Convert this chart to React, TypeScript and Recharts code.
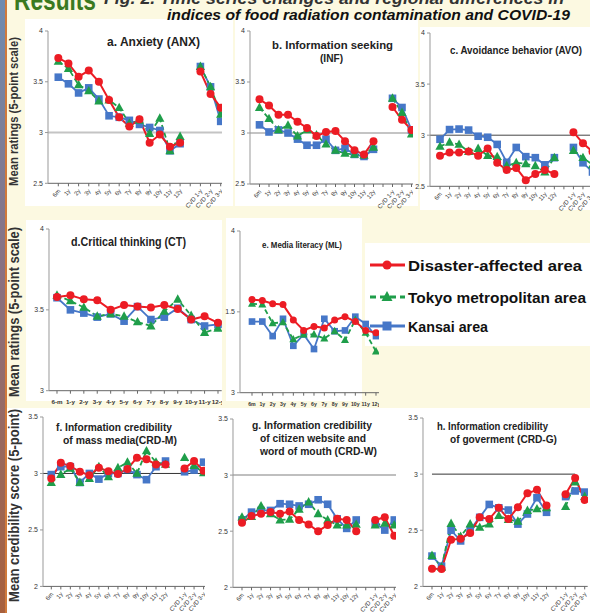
import React from "react";
import { LineChart, Line, XAxis, YAxis, ReferenceLine } from "recharts";

const RED = "#ec1c24";
const GREEN = "#1f9e4a";
const BLUE = "#4677c8";
const CREAM = "#fcf9e1";
const FONT = "'Liberation Sans', Arial, sans-serif";

// categories
const catsTop = ["6m", "1y", "2y", "3y", "4y", "5y", "6y", "7y", "8y", "9y", "10y", "11y", "12y", "", "CVD 1-y", "CVD 2-y", "CVD 3-y"];
const catsF = ["6m", "1y", "2y", "3y", "4y", "5y", "6y", "7y", "8y", "9y", "10y", "11y", "12y", "", "CVD 1-y", "CVD 2-y", "CVD 3-y"];
const catsG = ["6m", "1y", "2y", "3y", "4y", "5y", "6y", "7y", "8y", "9y", "11y", "10y", "12y", "", "CVD 1-y", "CVD 2-y", "CVD 3-y"];
const catsD = ["6-m", "1-y", "2-y", "3-y", "4-y", "5-y", "6-y", "7-y", "8-y", "9-y", "10-y", "11-y", "12-y"];
const catsE = ["6m", "1y", "2y", "3y", "4y", "5y", "6y", "7y", "8y", "9y", "10y", "11y", "12y"];

// y ticks
const ticksRow1 = [2.5, 3, 3.5, 4];
const labelsRow1 = ["2.5", "3", "3.5", "4"];
const ticksRow2 = [3, 3.5, 4];
const labelsD = ["3", "3.5", "4"];
const labelsE = ["3", "1.5", "4"];
const ticksRow3 = [2, 2.5, 3, 3.5];
const labelsRow3 = ["2", "2.5", "3", "3.5"];

// a. Anxiety
const aRed = [3.735, 3.68, 3.55, 3.61, 3.5, 3.32, 3.15, 3.06, 3.13, 2.9, 2.98, 2.86, 2.9, null, 3.6, 3.38, 3.245];
const aGreen = [3.7, 3.63, 3.47, 3.41, 3.31, 3.32, 3.245, 3.09, 3.12, 2.99, 3.14, 2.82, 2.96, null, 3.65, 3.45, 3.18];
const aBlue = [3.545, 3.48, 3.39, 3.44, 3.33, 3.165, 3.15, 3.12, 3.08, 3.05, 3.02, 2.82, 2.89, null, 3.65, 3.45, 3.11];

// b. Information seeking
const bRed = [3.33, 3.27, 3.18, 3.18, 3.11, 3.05, 2.97, 3.01, 3.02, 2.92, 2.83, 2.79, 2.92, null, 3.255, 3.13, 3.03];
const bGreen = [3.25, 3.14, 3.03, 3.075, 2.97, 3.03, 2.98, 2.89, 2.83, 2.8, 2.79, 2.78, 2.86, null, 3.34, 3.2, 2.99];
const bBlue = [3.08, 3.01, 3.03, 3.0, 2.94, 2.88, 2.88, 2.94, 2.83, 2.85, 2.79, 2.77, 2.84, null, 3.34, 3.25, 3.03];

// c. Avoidance behavior
const cRed = [2.8, 2.83, 2.83, 2.84, 2.8, 2.87, 2.73, 2.66, 2.68, 2.56, 2.62, 2.66, 2.62, null, 3.03, 2.92, 2.84];
const cGreen = [2.89, 2.93, 2.91, 2.84, 2.87, 2.8, 2.79, 2.7, 2.73, 2.72, 2.7, 2.64, 2.78, null, 2.85, 2.78, 2.71];
const cBlue = [2.96, 3.055, 3.06, 3.05, 2.99, 2.98, 2.91, 2.735, 2.88, 2.79, 2.78, 2.71, 2.78, null, 2.88, 2.73, 2.64];

// d. Critical thinking
const dRed = [3.58, 3.59, 3.565, 3.56, 3.5, 3.53, 3.52, 3.515, 3.53, 3.505, 3.44, 3.46, 3.42];
const dGreen = [3.59, 3.555, 3.515, 3.46, 3.475, 3.46, 3.425, 3.4, 3.49, 3.565, 3.465, 3.36, 3.385];
const dBlue = [3.575, 3.5, 3.48, 3.455, 3.475, 3.43, 3.52, 3.44, 3.455, 3.51, 3.44, 3.4, 3.41];

// e. Media literacy
const eRed = [3.576, 3.57, 3.55, 3.545, 3.45, 3.385, 3.41, 3.4, 3.45, 3.47, 3.44, 3.385, 3.37];
const eGreen = [3.55, 3.545, 3.43, 3.435, 3.33, 3.36, 3.36, 3.335, 3.38, 3.325, 3.45, 3.37, 3.255];
const eBlue = [3.44, 3.44, 3.35, 3.457, 3.29, 3.36, 3.27, 3.457, 3.38, 3.385, 3.47, 3.425, 3.35];

// f. CRD-M
const fRed = [2.955, 3.094, 3.065, 3.015, 2.985, 3.05, 3.02, 2.995, 3.04, 3.14, 3.125, 3.08, 3.08, null, 3.045, 3.11, 3.025];
const fGreen = [2.92, 2.99, 3.045, 2.92, 2.955, 3.06, 2.97, 3.05, 3.1, 3.0, 3.2, 3.1, 3.08, null, 3.14, 3.07, 3.005];
const fBlue = [2.99, 3.06, 3.06, 2.92, 3.0, 2.95, 3.0, 3.0, 3.035, 2.99, 2.945, 3.06, 3.11, null, 3.015, 3.03, 3.1];

// g. CRD-W
const gRed = [2.575, 2.635, 2.655, 2.67, 2.655, 2.675, 2.6, 2.56, 2.5, 2.555, 2.61, 2.6, 2.5, null, 2.6, 2.625, 2.46];
const gGreen = [2.625, 2.63, 2.725, 2.655, 2.6, 2.605, 2.695, 2.76, 2.655, 2.6, 2.555, 2.555, 2.56, null, 2.555, 2.57, 2.555];
const gBlue = [2.6, 2.67, 2.685, 2.685, 2.745, 2.74, 2.725, 2.74, 2.78, 2.74, 2.61, 2.525, 2.6, null, 2.57, 2.51, 2.6];

// h. CRD-G
const hRed = [2.157, 2.155, 2.415, 2.425, 2.475, 2.615, 2.6, 2.7, 2.6, 2.705, 2.83, 2.86, 2.72, null, 2.82, 2.965, 2.77];
const hGreen = [2.275, 2.17, 2.56, 2.445, 2.555, 2.525, 2.555, 2.63, 2.595, 2.58, 2.675, 2.69, 2.7, null, 2.71, 2.93, 2.8];
const hBlue = [2.27, 2.18, 2.5, 2.405, 2.505, 2.615, 2.73, 2.7, 2.68, 2.555, 2.645, 2.79, 2.66, null, 2.8, 2.85, 2.84];

const build = (cats: string[], red: (number | null)[], green: (number | null)[], blue: (number | null)[]) =>
  cats.map((c, i) => ({ cat: c, red: red[i], green: green[i], blue: blue[i] }));

const circleDot = (s: number) => (p: any) =>
  p.cy == null || p.value == null ? <g key={p.index} /> : <circle key={p.index} cx={p.cx} cy={p.cy} r={s} fill={RED} />;

const triDot = (s: number) => (p: any) =>
  p.cy == null || p.value == null ? (
    <g key={p.index} />
  ) : (
    <polygon
      key={p.index}
      points={`${p.cx},${p.cy - s * 1.25} ${p.cx - s * 1.15},${p.cy + s * 0.85} ${p.cx + s * 1.15},${p.cy + s * 0.85}`}
      fill={GREEN}
    />
  );

const squareDot = (s: number) => (p: any) =>
  p.cy == null || p.value == null ? (
    <g key={p.index} />
  ) : (
    <rect key={p.index} x={p.cx - s * 0.95} y={p.cy - s * 0.95} width={s * 1.9} height={s * 1.9} fill={BLUE} />
  );

const RotTick = (p: any) => (
  <g transform={`translate(${p.x},${p.y + 1})`}>
    <text textAnchor="end" fontSize={6} fill="#333" fontFamily={FONT} transform="rotate(-50)" dy={3}>
      {p.payload.value}
    </text>
  </g>
);

const FlatTick = (p: any) => (
  <text x={p.x} y={p.y + 8} textAnchor="middle" fontSize={p.fs ?? 6.2} fontWeight="bold" fill="#333" fontFamily={FONT}>
    {p.payload.value}
  </text>
);

interface PanelProps {
  axisX: number;
  endX: number;
  firstX: number;
  lastX: number;
  topPx: number;
  botPx: number;
  domain: [number, number];
  ticks: number[];
  labels: string[];
  data: any[];
  flat?: number;
  size?: number;
  refLine?: { stroke: string; width: number; to?: string };
}

function Panel({ axisX, endX, firstX, lastX, topPx, botPx, domain, ticks, labels, data, flat, size = 4, refLine }: PanelProps) {
  const yw = 30;
  const mt = 8;
  const mb = 40;
  const left = axisX - yw;
  const top = topPx - mt;
  const W = endX - left;
  const H = botPx - topPx + mt + mb;
  return (
    <div style={{ position: "absolute", left, top, width: W, height: H }}>
      <LineChart width={W} height={H} data={data} margin={{ top: mt, right: 0, bottom: 0, left: 0 }}>
        <XAxis
          dataKey="cat"
          interval={0}
          height={mb}
          padding={{ left: firstX - axisX, right: endX - lastX }}
          tick={flat ? <FlatTick fs={flat} /> : <RotTick />}
          tickSize={3}
          axisLine={{ stroke: "#666" }}
          tickLine={{ stroke: "#666" }}
        />
        <YAxis
          type="number"
          domain={domain}
          ticks={ticks}
          width={yw}
          tickSize={3}
          allowDataOverflow
          axisLine={{ stroke: "#999" }}
          tickLine={{ stroke: "#999" }}
          tick={{ fontSize: 7, fill: "#333", fontFamily: FONT }}
          tickFormatter={(v: number) => labels[ticks.indexOf(v)] ?? String(v)}
        />
        {refLine && !refLine.to && (
          <ReferenceLine y={3} stroke={refLine.stroke} strokeWidth={refLine.width} />
        )}
        {refLine && refLine.to && (
          <ReferenceLine
            segment={[
              { x: data[0].cat, y: 3 },
              { x: refLine.to, y: 3 },
            ]}
            stroke={refLine.stroke}
            strokeWidth={refLine.width}
          />
        )}
        <Line dataKey="blue" stroke={BLUE} strokeWidth={1.8} dot={squareDot(size)} activeDot={false} isAnimationActive={false} />
        <Line
          dataKey="green"
          stroke={GREEN}
          strokeWidth={1.8}
          strokeDasharray="5 3"
          dot={triDot(size)}
          activeDot={false}
          isAnimationActive={false}
        />
        <Line dataKey="red" stroke={RED} strokeWidth={2} dot={circleDot(size)} activeDot={false} isAnimationActive={false} />
      </LineChart>
    </div>
  );
}

const T = ({ x, y, len, size, children, weight = "bold", italic, fill = "#222" }: any) => (
  <text
    x={x}
    y={y}
    fontSize={size}
    fontWeight={weight}
    fontStyle={italic ? "italic" : "normal"}
    fill={fill}
    fontFamily={FONT}
    textLength={len}
    lengthAdjust="spacingAndGlyphs"
  >
    {children}
  </text>
);

export default function App() {
  return (
    <div style={{ position: "fixed", left: 0, top: 0, width: 590, height: 613, overflow: "hidden", background: CREAM }}>
      <svg width={590} height={613} style={{ position: "absolute", left: 0, top: 0 }}>
        <defs>
          <linearGradient id="strip" x1="0" y1="0" x2="0" y2="1">
            <stop offset="0" stopColor="#6f8bb0" />
            <stop offset="0.45" stopColor="#8a7080" />
            <stop offset="1" stopColor="#a8603c" />
          </linearGradient>
        </defs>
        <rect x={0} y={0} width={6} height={613} fill="url(#strip)" />
        <rect x={5} y={0} width={2} height={613} fill="#d07a3c" />
        <rect x={25} y={19} width={208} height={187} fill="#fff" />
        <rect x={235} y={19} width={183} height={187} fill="#fff" />
        <rect x={420} y={27} width={170} height={183} fill="#fff" />
        <rect x={26} y={220} width={196} height={181} fill="#fff" />
        <rect x={226} y={218} width={136} height={183} fill="#fff" />
        <rect x={365} y={243} width={225} height={103} fill="#fff" />
        <rect x={7} y={408} width={583} height={205} fill="#fff" />

        <T x={14} y={10} size={30} len={82} fill="#3b7a1f">Results</T>
        <T x={104} y={4} size={16} len={460} italic fill="#333">Fig. 2. Time series changes and regional differences in</T>
        <T x={167} y={20} size={15.5} len={403} italic fill="#111">indices of food radiation contamination and COVID-19</T>

        <g transform="translate(18,112) rotate(-90)">
          <text x={-74} y={0} fontSize={13} fontWeight="bold" fill="#333" fontFamily={FONT} textLength={149} lengthAdjust="spacingAndGlyphs">
            Mean ratings (5-point scale)
          </text>
        </g>
        <g transform="translate(19,312) rotate(-90)">
          <text x={-85} y={0} fontSize={14} fontWeight="bold" fill="#333" fontFamily={FONT} textLength={170} lengthAdjust="spacingAndGlyphs">
            Mean ratings (5-point scale)
          </text>
        </g>
        <g transform="translate(19,506) rotate(-90)">
          <text x={-96} y={0} fontSize={14} fontWeight="bold" fill="#333" fontFamily={FONT} textLength={193} lengthAdjust="spacingAndGlyphs">
            Mean credibility score (5-point)
          </text>
        </g>

        <T x={107} y={46} size={12} len={93}>a. Anxiety (ANX)</T>
        <T x={272} y={49} size={11.5} len={121}>b. Information seeking</T>
        <T x={320} y={62} size={11.5} len={23}>(INF)</T>
        <T x={450} y={54} size={10} len={132}>c. Avoidance behavior (AVO)</T>
        <T x={71} y={246} size={12.5} len={115}>d.Critical thinking (CT)</T>
        <T x={262} y={248} size={9} len={80}>e. Media literacy (ML)</T>
        <T x={56} y={431} size={11.5} len={116}>f. Information credibility</T>
        <T x={63} y={444} size={11.5} len={114}>of mass media(CRD-M)</T>
        <T x={252} y={429} size={11} len={120}>g. Information credibility</T>
        <T x={260} y={442} size={11} len={106}>of citizen website and</T>
        <T x={260} y={455} size={11} len={117}>word of mouth (CRD-W)</T>
        <T x={437} y={430} size={11} len={111}>h. Information credibility</T>
        <T x={450} y={443} size={11} len={107}>of goverment (CRD-G)</T>

        <line x1={370} y1={265} x2={405} y2={265} stroke={RED} strokeWidth={3} />
        <circle cx={387} cy={265} r={4.5} fill={RED} />
        <T x={408} y={271} size={15} len={174} fill="#111">Disaster-affected area</T>
        <line x1={370} y1={297} x2={405} y2={297} stroke={GREEN} strokeWidth={3} strokeDasharray="6 4" />
        <polygon points="387,291 381.5,301 392.5,301" fill={GREEN} />
        <T x={408} y={303} size={15} len={178} fill="#111">Tokyo metropolitan area</T>
        <line x1={370} y1={326} x2={405} y2={326} stroke={BLUE} strokeWidth={3} />
        <rect x={382.5} y={321.5} width={9} height={9} fill={BLUE} />
        <T x={408} y={332} size={15} len={80} fill="#111">Kansai area</T>
      </svg>

      <Panel axisX={48} endX={222} firstX={58.3} lastX={220.7} topPx={30.7} botPx={183} domain={[2.5, 4]} ticks={ticksRow1} labels={labelsRow1}
        data={build(catsTop, aRed, aGreen, aBlue)} refLine={{ stroke: "#c4c4c4", width: 2 }} />
      <Panel axisX={249.5} endX={413} firstX={259} lastX={411} topPx={31.3} botPx={184.3} domain={[2.5, 4]} ticks={ticksRow1} labels={labelsRow1}
        data={build(catsTop, bRed, bGreen, bBlue)} refLine={{ stroke: "#c4c4c4", width: 2 }} />
      <Panel axisX={430} endX={596} firstX={440} lastX={592.5} topPx={32.7} botPx={186} domain={[2.5, 4]} ticks={ticksRow1} labels={labelsRow1}
        data={build(catsTop, cRed, cGreen, cBlue)} refLine={{ stroke: "#444", width: 1 }} />
      <Panel axisX={49.3} endX={222} firstX={57.3} lastX={218.3} topPx={229} botPx={390.7} domain={[3, 4]} ticks={ticksRow2} labels={labelsD}
        data={build(catsD, dRed, dGreen, dBlue)} flat={6.2} />
      <Panel axisX={240} endX={379} firstX={252} lastX={376} topPx={231} botPx={392.7} domain={[3, 4]} ticks={ticksRow2} labels={labelsE}
        data={build(catsE, eRed, eGreen, eBlue)} flat={5.2} size={3.5} />
      <Panel axisX={42.7} endX={205} firstX={51} lastX={203.3} topPx={417.3} botPx={586.7} domain={[2, 3.5]} ticks={ticksRow3} labels={labelsRow3}
        data={build(catsF, fRed, fGreen, fBlue)} refLine={{ stroke: "#333", width: 1 }} />
      <Panel axisX={232.7} endX={396} firstX={241.7} lastX={394} topPx={419} botPx={587.3} domain={[2, 3.5]} ticks={ticksRow3} labels={labelsRow3}
        data={build(catsG, gRed, gGreen, gBlue)} refLine={{ stroke: "#aaa", width: 1.5 }} />
      <Panel axisX={423.3} endX={588} firstX={432.3} lastX={585} topPx={418.3} botPx={586.7} domain={[2, 3.5]} ticks={ticksRow3} labels={labelsRow3}
        data={build(catsF, hRed, hGreen, hBlue)} refLine={{ stroke: "#333", width: 1, to: "CVD 2-y" }} />
    </div>
  );
}
